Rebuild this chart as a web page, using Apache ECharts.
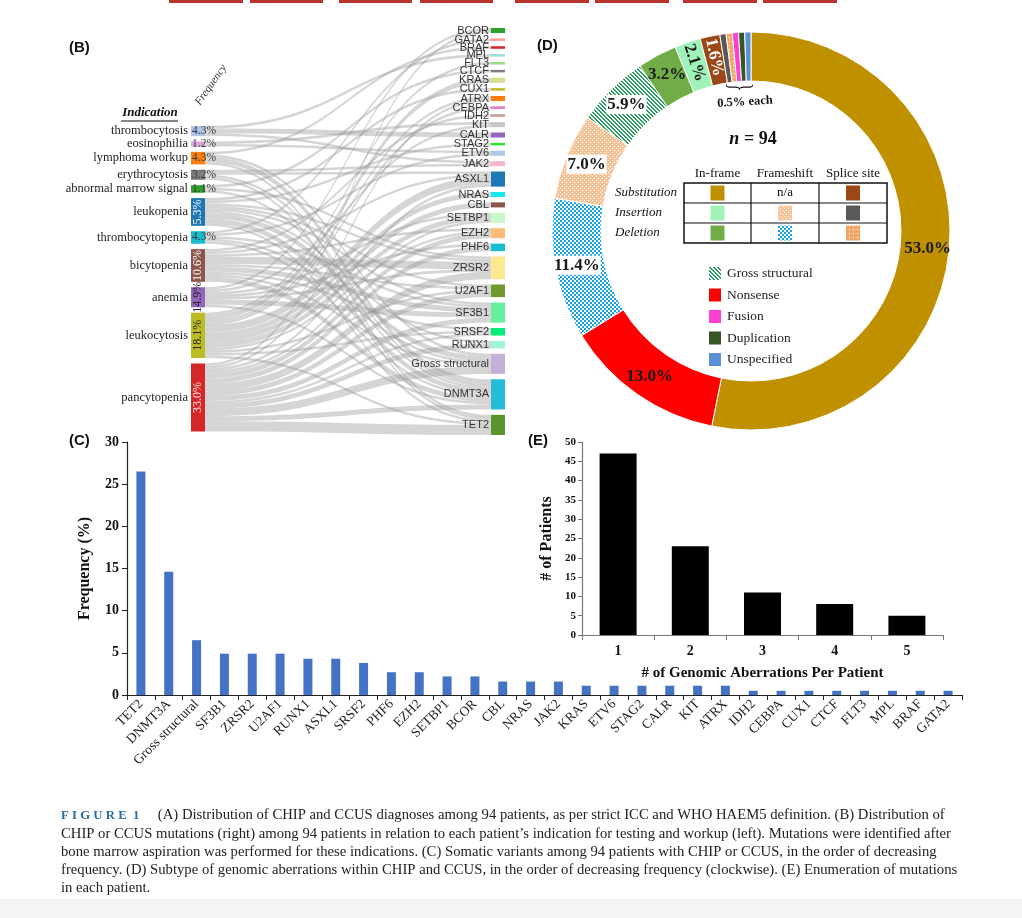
<!DOCTYPE html>
<html><head><meta charset="utf-8">
<script src="https://cdn.jsdelivr.net/npm/echarts@6/dist/echarts.min.js"></script>
<style>html,body{margin:0;padding:0;background:#fff}#c{width:1022px;height:918px}</style>
</head><body><div id="c"></div>
<script>
// ---------- DATA ----------
// Panel B (sankey)
const indications = ['thrombocytosis','eosinophilia','lymphoma workup','erythrocytosis','abnormal marrow signal','leukopenia','thrombocytopenia','bicytopenia','anemia','leukocytosis','pancytopenia'];
const indicationFreq = ['4.3%','1.2%','4.3%','3.2%','1.1%','5.3%','4.3%','10.6%','14.9%','18.1%','33.0%'];
const genes = ['BCOR','GATA2','BRAF','MPL','FLT3','CTCF','KRAS','CUX1','ATRX','CEBPA','IDH2','KIT','CALR','STAG2','ETV6','JAK2','ASXL1','NRAS','CBL','SETBP1','EZH2','PHF6','ZRSR2','U2AF1','SF3B1','SRSF2','RUNX1','Gross structural','DNMT3A','TET2'];
const flowSource = ['thrombocytosis','thrombocytosis','thrombocytosis',
 'eosinophilia','eosinophilia',
 'lymphoma workup','lymphoma workup','lymphoma workup','lymphoma workup',
 'erythrocytosis','erythrocytosis','erythrocytosis','erythrocytosis',
 'abnormal marrow signal','abnormal marrow signal','abnormal marrow signal',
 'leukopenia','leukopenia','leukopenia','leukopenia','leukopenia','leukopenia','leukopenia','leukopenia','leukopenia',
 'thrombocytopenia','thrombocytopenia','thrombocytopenia','thrombocytopenia','thrombocytopenia',
 'bicytopenia','bicytopenia','bicytopenia','bicytopenia','bicytopenia','bicytopenia','bicytopenia','bicytopenia','bicytopenia',
 'anemia','anemia','anemia','anemia','anemia','anemia','anemia',
 'leukocytosis','leukocytosis','leukocytosis','leukocytosis','leukocytosis','leukocytosis','leukocytosis','leukocytosis','leukocytosis','leukocytosis','leukocytosis','leukocytosis',
 'pancytopenia','pancytopenia','pancytopenia','pancytopenia','pancytopenia','pancytopenia','pancytopenia','pancytopenia','pancytopenia','pancytopenia','pancytopenia','pancytopenia','pancytopenia','pancytopenia'];
const flowTarget = ['JAK2','CALR','MPL',
 'KIT','ETV6',
 'TET2','DNMT3A','BRAF','Gross structural',
 'JAK2','TET2','DNMT3A','ASXL1',
 'DNMT3A','ZRSR2','CTCF',
 'DNMT3A','TET2','SF3B1','U2AF1','ZRSR2','Gross structural','RUNX1','CUX1','STAG2',
 'ETV6','GATA2','SF3B1','DNMT3A','Gross structural',
 'DNMT3A','SF3B1','ZRSR2','U2AF1','SRSF2','Gross structural','EZH2','ASXL1','IDH2',
 'SF3B1','DNMT3A','PHF6','ZRSR2','SETBP1','BCOR','KIT',
 'ASXL1','SETBP1','CBL','NRAS','KRAS','TET2','U2AF1','SRSF2','EZH2','CEBPA','FLT3','ATRX',
 'BCOR','ATRX','ASXL1','SETBP1','EZH2','PHF6','ZRSR2','U2AF1','SF3B1','SRSF2','RUNX1','Gross structural','DNMT3A','TET2'];
const flowValue = [1,2,1,
 1,1,
 1,2,1,1,
 1,1,1,1,
 1,1,1,
 2,1,1,1,1,2,1,1,1,
 1,1,1,1,1,
 2,2,3,1,1,1,1,1,1,
 2,1,1,1,1,1,1,
 3,2,2,2,2,1,1,1,1,1,1,1,
 1,1,1,1,2,2,3,2,2,1,2,3,2,4];

// Panel C
const variantNames = ['TET2','DNMT3A','Gross structural','SF3B1','ZRSR2','U2AF1','RUNX1','ASXL1','SRSF2','PHF6','EZH2','SETBP1','BCOR','CBL','NRAS','JAK2','KRAS','ETV6','STAG2','CALR','KIT','ATRX','IDH2','CEBPA','CUX1','CTCF','FLT3','MPL','BRAF','GATA2'];
const variantFreq = [26.5,14.6,6.5,4.9,4.9,4.9,4.3,4.3,3.8,2.7,2.7,2.2,2.2,1.6,1.6,1.6,1.1,1.1,1.1,1.1,1.1,1.1,0.5,0.5,0.5,0.5,0.5,0.5,0.5,0.5];

// Panel D
const aberrationTypes = ['Substitution in-frame','Nonsense','Deletion frameshift','Insertion frameshift','Gross structural','Deletion in-frame','Insertion in-frame','Substitution splice site','Insertion splice site','Deletion splice site','Fusion','Duplication','Unspecified'];
const aberrationPct = [53.0,13.0,11.4,7.0,5.9,3.2,2.1,1.6,0.5,0.5,0.5,0.5,0.5];
const donutLegend = ['Gross structural','Nonsense','Fusion','Duplication','Unspecified'];

// Panel E
const aberrationsPerPatient = ['1','2','3','4','5'];
const patientCounts = [47,23,11,8,5];

// ---------- STYLE ----------
const SERIF = '"Liberation Serif","Times New Roman",serif';
const SANS = '"Liberation Sans",Arial,sans-serif';
const leftColors = ['#aec7e8','#dba5dc','#ff7f0e','#7f7f7f','#2ca02c','#1f77b4','#17becf','#8c564b','#9467bd','#bcbd22','#d62728'];
const geneColors = ['#2ca02c','#ff9896','#d62728','#9edae5','#98df8a','#7f7f7f','#dbdb8d','#bcbd22','#ff7f0e','#e377c2','#c49c94','#c7c7c7','#9467bd','#2ee62e','#aec7e8','#f7b6d2','#1f77b4','#17e8f0','#8c564b','#c8f7c8','#ffbb78','#17becf','#ffe88f','#6f9a2f','#66f09e','#00ee78','#a0f5d8','#c5b0d5','#23bcd9','#57952a'];
const pctStyle = { // per left node: [rotate, color]
  'leukopenia':[90,'#fff'],'bicytopenia':[90,'#fff'],'anemia':[90,'#222'],'leukocytosis':[90,'#222'],'pancytopenia':[90,'#ffe8e8']
};

function makePattern(w,h,fn){const c=document.createElement('canvas');c.width=w;c.height=h;const g=c.getContext('2d');fn(g);return {image:c,repeat:'repeat'};}
const patBlue = makePattern(4,4,g=>{g.fillStyle='#fff';g.fillRect(0,0,4,4);g.fillStyle='#16a2e4';g.fillRect(0,0,2,2);g.fillRect(2,2,2,2);});
const patPeach = makePattern(4,4,g=>{g.fillStyle='#f6c49a';g.fillRect(0,0,4,4);g.fillStyle='#fff';g.fillRect(0,0,1,1);g.fillRect(2,2,1,1);});
const patOrange = makePattern(4,4,g=>{g.fillStyle='#f0a868';g.fillRect(0,0,4,4);g.fillStyle='#fff';g.fillRect(1,1,1,1);});
const patStripe = makePattern(4,4,g=>{g.fillStyle='#fff';g.fillRect(0,0,4,4);g.fillStyle='#2a9d62';for(let i=0;i<4;i++){g.fillRect(i,i,1,1);g.fillRect((i+1)%4,i,1,1);}});
const pieColors = {
 'Substitution in-frame':'#bf9000','Nonsense':'#ff0000','Deletion frameshift':patBlue,'Insertion frameshift':patPeach,
 'Gross structural':patStripe,'Deletion in-frame':'#70ad47','Insertion in-frame':'#9ff2b8','Substitution splice site':'#9c4716',
 'Insertion splice site':'#595959','Deletion splice site':patOrange,'Fusion':'#ff3fd2','Duplication':'#375623','Unspecified':'#5b8fd6'
};
const pieLabelExtra = {
 'Deletion frameshift':{backgroundColor:'#fff',padding:[1,1]},
 'Insertion frameshift':{backgroundColor:'#fff',padding:[1,1]},
 'Gross structural':{backgroundColor:'#fff',padding:[1,1]},
 'Insertion in-frame':{rotate:'radial'},
 'Substitution splice site':{rotate:'radial',color:'#fff'}
};

// ---------- BUILD ----------
const SPACER = 36.8; // layout-only invisible node to bottom-align the left column
function sankeyNodes(overlay){
  const nodes=[{name:'__spacer',value:SPACER,itemStyle:{color:'rgba(0,0,0,0)'},label:{show:false}}];
  indications.forEach((n,i)=>{
    let label;
    if(!overlay){label={show:true,position:'left',distance:3,fontFamily:SERIF,fontSize:12.5,color:'#1e1e1e',formatter:'{b}'};}
    else{
      const ps=pctStyle[n];
      label= ps ? {show:true,position:'inside',rotate:ps[0],color:ps[1],fontFamily:SERIF,fontSize:12,formatter:()=>indicationFreq[i]}
               : {show:true,position:'insideLeft',distance:1,color:'#3a3a3a',fontFamily:SERIF,fontSize:11.5,formatter:()=>indicationFreq[i]};
    }
    nodes.push({name:n,itemStyle:{color:overlay?'rgba(0,0,0,0)':leftColors[i]},label});
  });
  genes.forEach((g,i)=>{
    nodes.push({name:g,itemStyle:{color:overlay?'rgba(0,0,0,0)':geneColors[i]},
      label:overlay?{show:false}:{show:true,position:'left',distance:2,fontFamily:SANS,fontSize:11,color:'#333',formatter:'{b}'}});
  });
  return nodes;
}
const links = flowSource.map((s,i)=>({source:s,target:flowTarget[i],value:flowValue[i]}));
const sankeyBase = {type:'sankey',left:191,top:28,right:517,bottom:483,nodeWidth:14,nodeGap:5.35,layoutIterations:0,nodeAlign:'left',draggable:false,emphasis:{disabled:true}};

const pieData = aberrationTypes.map((n,i)=>{
  const v=aberrationPct[i];
  const lab = v>=1 ? Object.assign({show:true},pieLabelExtra[n]||{}) : {show:false};
  return {name:n,value:v,itemStyle:{color:pieColors[n]},label:lab};
});

const chart = echarts.init(document.getElementById('c'),null,{renderer:'canvas',width:1022,height:918});

const T = (t,x,y,o)=>Object.assign({type:'text',x,y,z:100,silent:true,style:Object.assign({text:t,fill:'#111',fontFamily:SERIF,fontSize:13},o||{})});
const graphics = [];
// top page strip
[[169,243],[250,323],[339,412],[420,493],[515,589],[595,669],[683,757],[763,837]].forEach(([a,b])=>graphics.push({type:'rect',silent:true,shape:{x:a,y:0,width:b-a,height:3},style:{fill:'#b8342c'}}));
graphics.push({type:'rect',silent:true,z:-1,shape:{x:0,y:899,width:1022,height:19},style:{fill:'#f4f4f4'}});
// panel letters
graphics.push(T('(B)',69,40,{fontFamily:SANS,fontWeight:'bold',fontSize:15}));
graphics.push(T('(C)',69,433,{fontFamily:SANS,fontWeight:'bold',fontSize:15}));
graphics.push(T('(D)',537,38,{fontFamily:SANS,fontWeight:'bold',fontSize:15}));
graphics.push(T('(E)',528,433,{fontFamily:SANS,fontWeight:'bold',fontSize:15}));
// sankey headers
graphics.push(T('Indication',150,113,{fontStyle:'italic',fontWeight:'bold',fontSize:13,align:'center',verticalAlign:'middle'}));
graphics.push({type:'line',silent:true,z:100,shape:{x1:121,y1:121,x2:178,y2:121},style:{stroke:'#111',lineWidth:1}});
graphics.push(Object.assign(T('Frequency',211,85,{fontStyle:'italic',fontSize:11,align:'center',verticalAlign:'middle',fill:'#333'}),{rotation:0.96}));
// donut center
graphics.push(T('{i|n} = 94',753,139,{fontWeight:'bold',fontSize:18,align:'center',verticalAlign:'middle',rich:{i:{fontStyle:'italic',fontWeight:'bold',fontSize:18,fontFamily:SERIF}}}));
[['In-frame',717.5],['Frameshift',785],['Splice site',853]].forEach(([t,x])=>graphics.push(T(t,x,174,{align:'center',verticalAlign:'middle',fontSize:13})));
[['Substitution',193],['Insertion',213],['Deletion',233]].forEach(([t,y])=>graphics.push(T(t,615,y,{fontStyle:'italic',verticalAlign:'middle',fontSize:13})));
graphics.push({type:'rect',silent:true,z:100,shape:{x:684,y:183,width:203,height:60},style:{fill:'none',stroke:'#111',lineWidth:1.5}});
[[751,183,751,243],[819,183,819,243],[684,203,887,203],[684,223,887,223]].forEach(([a,b,c,d])=>graphics.push({type:'line',silent:true,z:100,shape:{x1:a,y1:b,x2:c,y2:d},style:{stroke:'#111',lineWidth:1.2}}));
const sw=(cx,cy,fill)=>graphics.push({type:'rect',silent:true,z:100,shape:{x:cx-7,y:cy-7.5,width:14,height:15},style:{fill}});
sw(717.5,193,pieColors['Substitution in-frame']); sw(853,193,pieColors['Substitution splice site']);
sw(717.5,213,pieColors['Insertion in-frame']); sw(785,213,pieColors['Insertion frameshift']); sw(853,213,pieColors['Insertion splice site']);
sw(717.5,233,pieColors['Deletion in-frame']); sw(785,233,pieColors['Deletion frameshift']); sw(853,233,pieColors['Deletion splice site']);
graphics.push(T('n/a',785,193,{align:'center',verticalAlign:'middle',fontSize:13}));
// brace + 0.5% each
graphics.push(Object.assign(T('}',738,87,{align:'center',verticalAlign:'middle',fontSize:31}),{rotation:-Math.PI/2,scaleX:0.55}));
graphics.push(Object.assign(T('0.5% each',745,102,{align:'center',verticalAlign:'middle',fontWeight:'bold',fontSize:12.5}),{rotation:0.06}));
// caption
const capLines = [
 '{f|F I G U R E  1}     (A) Distribution of CHIP and CCUS diagnoses among 94 patients, as per strict ICC and WHO HAEM5 definition. (B) Distribution of',
 'CHIP or CCUS mutations (right) among 94 patients in relation to each patient\u2019s indication for testing and workup (left). Mutations were identified after',
 'bone marrow aspiration was performed for these indications. (C) Somatic variants among 94 patients with CHIP or CCUS, in the order of decreasing',
 'frequency. (D) Subtype of genomic aberrations within CHIP and CCUS, in the order of decreasing frequency (clockwise). (E) Enumeration of mutations',
 'in each patient.'];
graphics.push({type:'text',x:61,y:806,z:100,silent:true,scaleX:0.947,style:{text:capLines.join('\n'),fontFamily:SERIF,fontSize:15.5,lineHeight:18.3,fill:'#222',
  rich:{f:{fill:'#2f6aa3',fontFamily:SERIF,fontSize:13.5,fontWeight:'bold'}}}});

chart.setOption({
  animation:false,
  backgroundColor:'#fff',
  grid:[
    {left:127,top:442,width:835,height:253,outerBoundsMode:'none',containLabel:false},
    {left:582,top:442,width:361,height:193,outerBoundsMode:'none',containLabel:false}
  ],
  xAxis:[
    {type:'category',gridIndex:0,data:variantNames,boundaryGap:true,
     axisLine:{show:true,lineStyle:{color:'#222',width:1.2}},
     axisTick:{show:true,alignWithLabel:false,interval:0,length:5,lineStyle:{color:'#222'}},
     axisLabel:{interval:0,rotate:45,margin:7,fontFamily:SERIF,fontSize:13.5,color:'#222'}},
    {type:'category',gridIndex:1,data:aberrationsPerPatient,boundaryGap:true,
     name:'# of Genomic Aberrations Per Patient',nameLocation:'middle',nameGap:31,
     nameTextStyle:{fontFamily:SERIF,fontWeight:'bold',fontSize:15,color:'#111'},
     axisLine:{show:true,lineStyle:{color:'#777',width:1.2}},
     axisTick:{show:true,alignWithLabel:false,interval:0,length:5,lineStyle:{color:'#777'}},
     axisLabel:{interval:0,margin:9,fontFamily:SERIF,fontWeight:'bold',fontSize:14,color:'#111'}}
  ],
  yAxis:[
    {type:'value',gridIndex:0,min:0,max:30,interval:5,
     name:'Frequency (%)',nameLocation:'middle',nameGap:34,
     nameTextStyle:{fontFamily:SERIF,fontWeight:'bold',fontSize:16,color:'#111'},
     axisLine:{show:true,lineStyle:{color:'#222',width:1.2}},
     axisTick:{show:true,inside:false,length:5,lineStyle:{color:'#222'}},
     splitLine:{show:false},
     axisLabel:{fontFamily:SERIF,fontWeight:'bold',fontSize:14,color:'#111',margin:8}},
    {type:'value',gridIndex:1,min:0,max:50,interval:5,
     name:'# of Patients',nameLocation:'middle',nameGap:27,
     nameTextStyle:{fontFamily:SERIF,fontWeight:'bold',fontSize:16,color:'#111'},
     axisLine:{show:true,lineStyle:{color:'#777',width:1.2}},
     axisTick:{show:true,inside:false,length:4,lineStyle:{color:'#777'}},
     splitLine:{show:false},
     axisLabel:{fontFamily:SERIF,fontWeight:'bold',fontSize:11,color:'#111',margin:6}}
  ],
  legend:{data:donutLegend,orient:'vertical',left:707,top:265,itemWidth:14,itemHeight:15,itemGap:4.5,icon:'rect',selectedMode:false,
    textStyle:{fontFamily:SERIF,fontSize:13.5,color:'#222'},padding:0},
  series:[
    Object.assign({},sankeyBase,{data:sankeyNodes(false),links:links,
      lineStyle:{color:'#9c9c9c',opacity:0.42,curveness:0.5}}),
    Object.assign({},sankeyBase,{silent:true,data:sankeyNodes(true),links:links,
      lineStyle:{color:'#000',opacity:0,curveness:0.5}}),
    {type:'bar',xAxisIndex:0,yAxisIndex:0,data:variantFreq,barWidth:9,itemStyle:{color:'#4472c4'},silent:true},
    {type:'bar',xAxisIndex:1,yAxisIndex:1,data:patientCounts,barWidth:37,itemStyle:{color:'#000'},silent:true},
    {type:'pie',center:[751,231],radius:[150,199],startAngle:90,clockwise:true,avoidLabelOverlap:false,silent:true,
     itemStyle:{borderColor:'#fff',borderWidth:1},
     label:{position:'inside',formatter:p=>p.value.toFixed(1)+'%',fontFamily:SERIF,fontWeight:'bold',fontSize:17,color:'#1a1a1a'},
     labelLine:{show:false},
     data:pieData}
  ],
  graphic:graphics
});
</script></body></html>
